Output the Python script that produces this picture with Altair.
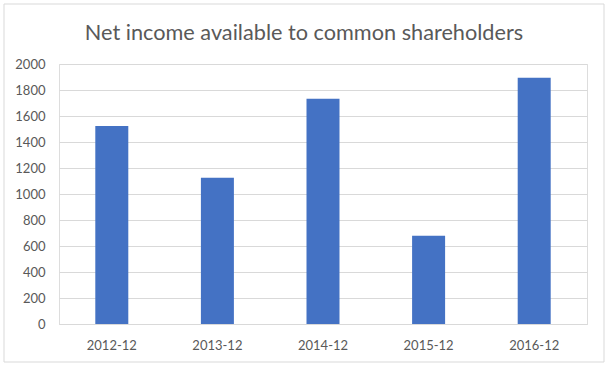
import altair as alt
import pandas as pd

periods = ["2012-12", "2013-12", "2014-12", "2015-12", "2016-12"]
net_income = [1523, 1125, 1733, 679, 1895]
y_ticks = [0, 200, 400, 600, 800, 1000, 1200, 1400, 1600, 1800, 2000]
title_text = "Net income available to common shareholders"

df = pd.DataFrame({"period": periods, "value": net_income})

FONT = "Lato"
GRAY_TEXT = "#595959"
GRID = "#d9d9d9"

one = pd.DataFrame({"k": [0]})

frame = alt.Chart(one).mark_rect(
    filled=False, stroke=GRID, strokeWidth=1
).encode(
    x=alt.value(-55), x2=alt.value(545), y=alt.value(-60), y2=alt.value(298)
)

title = alt.Chart(pd.DataFrame({"t": [title_text]})).mark_text(
    font=FONT, fontSize=21.7, color=GRAY_TEXT, align="center", baseline="middle"
).encode(
    text="t:N", x=alt.value(245), y=alt.value(-31)
)

bars = alt.Chart(df).mark_bar(color="#4472C4").encode(
    x=alt.X(
        "period:N",
        sort=periods,
        scale=alt.Scale(paddingInner=0.6875, paddingOuter=0.34375),
        axis=alt.Axis(
            title=None, labelAngle=0, ticks=False, domain=True, domainColor=GRID,
            grid=False, labelFont=FONT, labelFontSize=13, labelColor=GRAY_TEXT,
            labelPadding=15,
        ),
    ),
    y=alt.Y(
        "value:Q",
        scale=alt.Scale(domain=[0, 2000], nice=False),
        axis=alt.Axis(
            title=None, values=y_ticks, format="d", ticks=False, domain=False,
            grid=True, gridColor=GRID, labelFont=FONT, labelFontSize=13,
            labelColor=GRAY_TEXT, labelPadding=14,
        ),
    ),
)

chart = alt.layer(frame, title, bars).properties(
    width=528,
    height=260,
    padding={"left": 59, "top": 64, "right": 22, "bottom": 44},
    autosize=alt.AutoSizeParams(type="none"),
).configure_view(stroke=None).configure(background="white")

chart.save("out.html", embed_options={"renderer": "svg", "actions": False})
